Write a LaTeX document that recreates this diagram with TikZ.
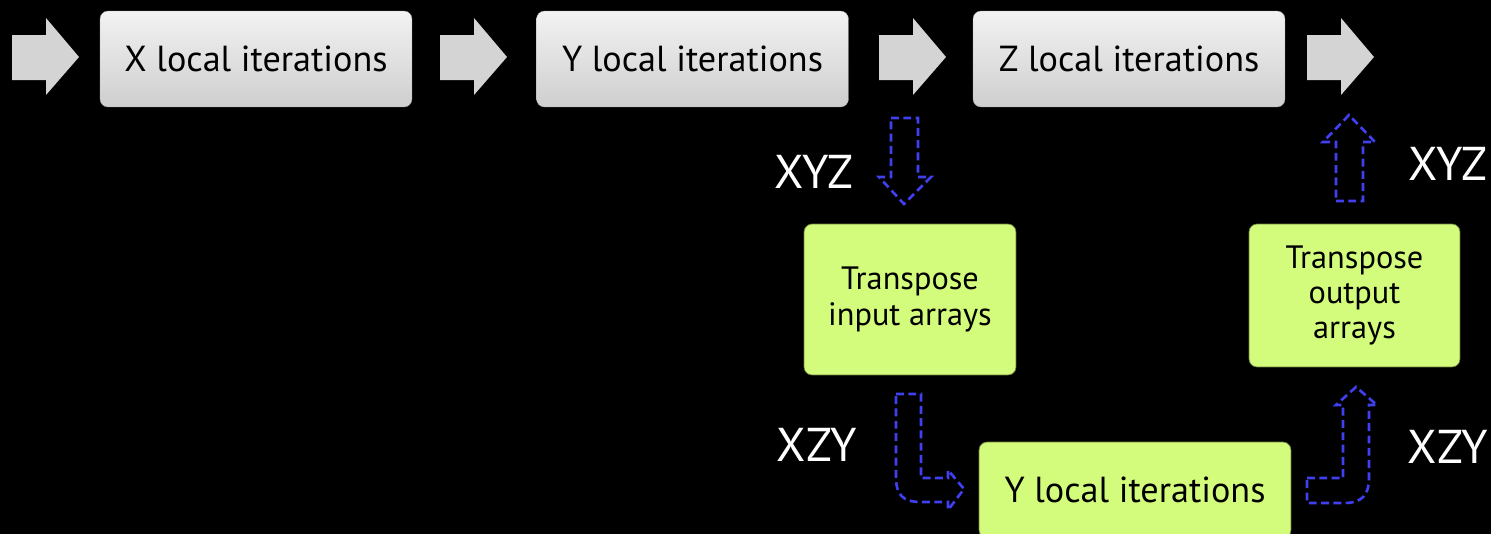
\documentclass[tikz,border=0pt]{standalone}
\usepackage{fontspec}
\setmainfont{PT Sans}
\usepackage{tikz}

\definecolor{arrowgrey}{HTML}{D4D4D4}
\definecolor{limegreen}{HTML}{D4FC7C}
\definecolor{limeedge}{HTML}{6E7F3A}
\definecolor{dashblue}{HTML}{4040F0}

\tikzset{
  greybox/.style={rounded corners=0.16cm, draw=gray!70, very thin, top color=white!95!black, bottom color=black!19,
    minimum width=6.24cm, minimum height=1.92cm, font=\fontsize{20.6}{24}\selectfont},
  greenbox/.style={rounded corners=0.16cm, draw=limeedge, thin, fill=limegreen, align=center,
    font=\fontsize{18.4}{20}\selectfont},
  lbl/.style={text=white, font=\fontsize{27}{30}\selectfont},
  blockarrow/.style={draw=dashblue, line width=1.5pt, dash pattern=on 4.5pt off 2.5pt, line join=miter}
}

\begin{document}
\begin{tikzpicture}[x=0.02cm,y=-0.02cm]
	  \clip (0,0) rectangle (1491,534);
	  \fill[black] (0,0) rectangle (1491,534);   % background

	  % grey block arrows along the top row
	  \foreach \x in {12,440,879,1307}
	  \fill[arrowgrey] (\x,35) -- ++(34,0) -- ++(0,-17) -- ++(33,39) -- ++(-33,38) -- ++(0,-15) -- ++(-34,0) -- cycle;

	  % top row boxes
	  \node[greybox] (xiter) at (256,59) {X local iterations};
	  \node[greybox] (yiter) at (692.5,59) {Y local iterations};
	  \node[greybox] (ziter) at (1129,59) {Z local iterations};

	  % transpose and inner Y step
	  \node[greenbox, minimum width=4.24cm, minimum height=3.02cm] (tin) at (910,299.5) {Transpose\\input arrays};
	  \node[greenbox, minimum width=4.22cm, minimum height=2.86cm] (tout) at (1354.5,295.5) {Transpose\\output\\arrays};
	  \node[greenbox, minimum width=6.24cm, minimum height=1.92cm, font=\fontsize{20.6}{24}\selectfont] (yloc) at (1135,490) {Y local iterations};

	  % layout labels
	  \node[lbl] (xyzin) at (814,172) {XYZ};
	  \node[lbl] (xzyin) at (817,445) {XZY};
	  \node[lbl] (xyzout) at (1448,164) {XYZ};
	  \node[lbl] (xzyout) at (1448,447) {XZY};

	  % dashed block arrows
	  \draw[blockarrow] (891,118) -- (918,118) -- (918,177) -- (931,177) -- (904,204) -- (879,177) -- (891,177) -- cycle;
	  \draw[blockarrow] (1336,201) -- (1363,201) -- (1363,142) -- (1375,142) -- (1349,115) -- (1323,142) -- (1336,142) -- cycle;
	  \draw[blockarrow] (896,394) -- (921,394) -- (921,478) -- (948,478) -- (948,470) -- (964,489) -- (948,510) -- (948,502) -- (921,502)
	    .. controls (903,502) and (896,495) .. (896,477) -- cycle;
	  \draw[blockarrow] (1307,478) -- (1343,478) -- (1343,405) -- (1336,405) -- (1356,387) -- (1377,405) -- (1369,405) -- (1369,478)
	    .. controls (1369,495) and (1362,503) .. (1344,503) -- (1307,503) -- cycle;
	\end{tikzpicture}
\end{document}
